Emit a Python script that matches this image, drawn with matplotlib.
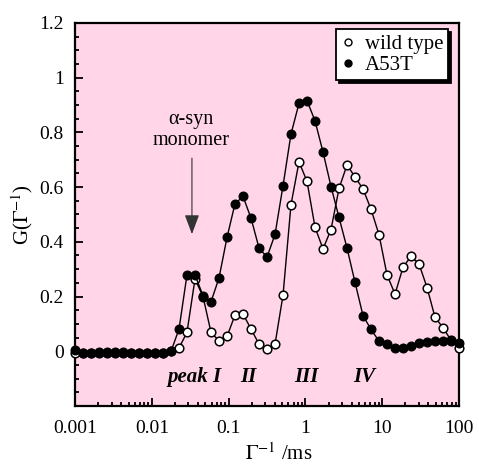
import matplotlib
matplotlib.use('Agg')
import matplotlib.pyplot as plt
from matplotlib.lines import Line2D
from matplotlib.ticker import FixedLocator, LogLocator, MultipleLocator, NullFormatter

plt.rcParams['font.family'] = ['Liberation Serif', 'DejaVu Serif']
plt.rcParams['mathtext.fontset'] = 'stix'

# relaxation time axis, 1/Gamma in ms
tau_ms = [0.001, 0.00127, 0.00162, 0.00205, 0.00261, 0.00332, 0.00422, 0.00536,
          0.00681, 0.00866, 0.0110, 0.0140, 0.0178, 0.0226, 0.0287, 0.0365,
          0.0464, 0.0590, 0.0750, 0.0953, 0.121, 0.154, 0.196, 0.249,
          0.316, 0.402, 0.511, 0.649, 0.825, 1.049, 1.334, 1.695,
          2.154, 2.738, 3.481, 4.424, 5.623, 7.147, 9.085, 11.55,
          14.68, 18.66, 23.71, 30.14, 38.31, 48.70, 61.90, 78.68, 100.0]

wild_type = [-0.005, -0.005, -0.005, -0.005, -0.005, -0.005, -0.005, -0.005,
             -0.005, -0.005, -0.005, -0.005, 0.0, 0.012, 0.069, 0.264,
             0.200, 0.069, 0.038, 0.054, 0.132, 0.136, 0.081, 0.026,
             0.010, 0.026, 0.205, 0.536, 0.692, 0.621, 0.453, 0.374,
             0.445, 0.595, 0.681, 0.637, 0.593, 0.519, 0.426, 0.279,
             0.209, 0.307, 0.347, 0.319, 0.233, 0.124, 0.086, 0.040, 0.012]

a53t = [0.004, -0.008, -0.006, -0.004, -0.004, -0.003, -0.004, -0.006,
        -0.006, -0.006, -0.006, -0.006, 0.0, 0.081, 0.279, 0.279,
        0.203, 0.181, 0.268, 0.416, 0.539, 0.566, 0.486, 0.377,
        0.344, 0.427, 0.605, 0.794, 0.906, 0.916, 0.842, 0.728,
        0.602, 0.489, 0.377, 0.252, 0.130, 0.080, 0.037, 0.026,
        0.013, 0.013, 0.020, 0.029, 0.034, 0.037, 0.037, 0.037, 0.029]

y_ticks = [0, 0.2, 0.4, 0.6, 0.8, 1.0, 1.2]
y_labels = ['0', '0.2', '0.4', '0.6', '0.8', '1', '1.2']
x_ticks = [0.001, 0.01, 0.1, 1, 10, 100]
x_labels = ['0.001', '0.01', '0.1', '1', '10', '100']

peak_names = ['peak I', 'II', 'III', 'IV']
peak_x = [0.0365, 0.179, 1.02, 5.8]

fig = plt.figure(figsize=(4.79, 4.66), dpi=100)
ax = fig.add_axes([0.1566, 0.1288, 0.8017, 0.822])
ax.set_facecolor('#ffd5e7')

ax.plot(tau_ms, wild_type, '-o', color='black', lw=1.0, ms=6.2,
        mfc='white', mec='black', mew=1.1, clip_on=False, zorder=3)
ax.plot(tau_ms, a53t, '-o', color='black', lw=1.0, ms=6.2,
        mfc='black', mec='black', clip_on=False, zorder=4)

ax.set_xscale('log')
ax.set_xlim(0.001, 100)
ax.set_ylim(-0.2, 1.2)

ax.xaxis.set_major_locator(FixedLocator(x_ticks))
ax.set_xticklabels(x_labels)
ax.xaxis.set_minor_locator(LogLocator(base=10, subs=range(2, 10), numticks=20))
ax.xaxis.set_minor_formatter(NullFormatter())
ax.set_yticks(y_ticks)
ax.set_yticklabels(y_labels)
ax.yaxis.set_minor_locator(MultipleLocator(0.05))

ax.tick_params(which='both', direction='in', top=False, right=False,
               width=1.3, labelsize=14)
ax.tick_params(which='major', length=6)
ax.tick_params(which='minor', length=3)
ax.tick_params(axis='x', pad=10)
ax.tick_params(axis='y', pad=8)
for sp in ax.spines.values():
    sp.set_linewidth(1.6)

ax.set_ylabel(r'G($\Gamma^{-1}$)', fontsize=15)
ax.yaxis.set_label_coords(-0.105, 0.5)
ax.set_xlabel(r'$\Gamma^{-1}$ /ms', fontsize=15)
ax.xaxis.set_label_coords(0.53, -0.098)

# peak labels
for name, px in zip(peak_names, peak_x):
    ax.text(px, -0.095, name, ha='center', va='center', fontsize=15,
            fontweight='bold', fontstyle='italic')

ax.text(0.032, 0.808, 'α-syn\nmonomer', ha='center', va='center',
        fontsize=14.5, linespacing=1.1)
ax.annotate('', xy=(0.0333, 0.418), xytext=(0.0333, 0.716),
            arrowprops=dict(arrowstyle='-|>,head_length=1.2,head_width=0.45',
                            mutation_scale=10, color='#333333', lw=0.8))

handles = [Line2D([], [], ls='none', marker='o', ms=5, mfc='white', mec='black'),
           Line2D([], [], ls='none', marker='o', ms=5, mfc='black', mec='black')]
leg = ax.legend(handles, ['wild type', 'A53T'], loc='upper right',
                bbox_to_anchor=(0.972, 0.983), borderaxespad=0, fancybox=False,
                shadow={'color': 'black', 'alpha': 1}, framealpha=1,
                edgecolor='black', fontsize=15, handlelength=0.6,
                handletextpad=0.5, borderpad=0.25, labelspacing=0.05)
leg.get_frame().set_linewidth(1.3)

fig.savefig('out.png', dpi=100)
